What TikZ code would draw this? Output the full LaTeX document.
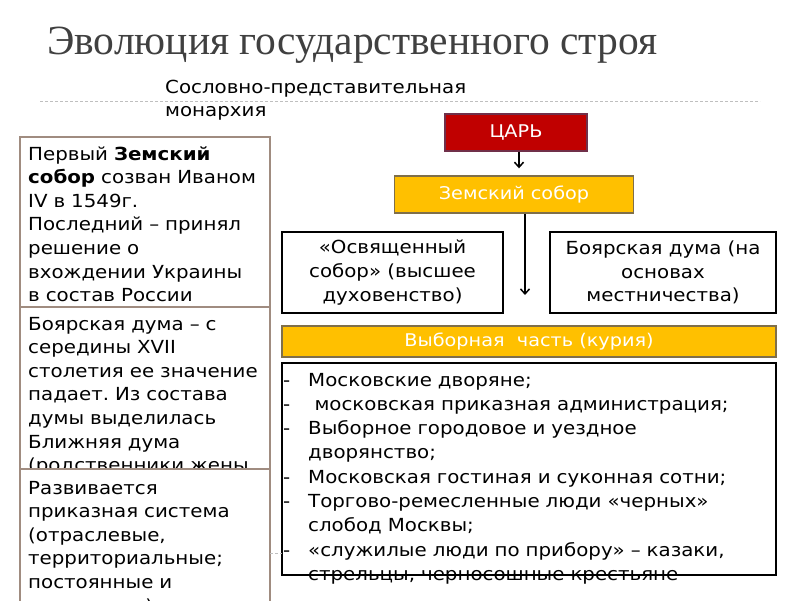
\documentclass[tikz,border=0pt]{standalone}
\usepackage{fontspec}
\setmainfont{DejaVu Sans}[FakeStretch=1.1]
\newfontfamily\titlefont{Liberation Serif}
\usetikzlibrary{arrows.meta}
\frenchspacing
\definecolor{titlegrey}{HTML}{404040}
\definecolor{sepgrey}{HTML}{BFBFBF}
\definecolor{leftborder}{HTML}{A08C80}
\definecolor{tsarred}{HTML}{C00000}
\definecolor{tsarborder}{HTML}{70304A}
\definecolor{gold}{HTML}{FFC000}
\definecolor{goldborder}{HTML}{7F6F4A}
\newcommand{\lstdash}{\leavevmode\llap{-\hspace{18pt}}}
\tikzset{
  leftbox/.style={draw=leftborder, fill=white, line width=1.6pt},
  lefttext/.style={anchor=base west, inner sep=0pt, text width=240pt, align=left,
    font=\fontsize{18}{23.6}\selectfont},
  whitebox/.style={draw=black, fill=white, line width=1.8pt},
  goldbox/.style={draw=goldborder, fill=gold, line width=1.4pt},
  boxlabel/.style={inner sep=0pt, align=center, font=\fontsize{18}{23.6}\selectfont},
  goldlabel/.style={inner sep=0pt, text=white, font=\fontsize{17.5}{21}\selectfont},
  arr/.style={line width=1.5pt, -{Straight Barb[length=5pt,width=9pt,line width=1.5pt]}}
}
\begin{document}
\begin{tikzpicture}[x=1pt,y=-1pt]
\useasboundingbox (0,0) rectangle (800,600);
\clip (0,0) rectangle (800,600);
\fill[white] (0,0) rectangle (800,600);

% title
\node[anchor=base west, inner sep=0pt, text=titlegrey, font=\titlefont\fontsize{41.5}{45}\selectfont] (title) at (47,54) {Эволюция государственного строя};
\draw[sepgrey, line width=0.8pt, dash pattern=on 3pt off 2pt] (40,101) -- (760,101);
\node[anchor=base west, inner sep=0pt, text width=330pt, align=left, font=\fontsize{18}{23}\selectfont] (sub) at (165,93) {Сословно-представительная\\монархия};

% left column
\draw[leftbox] (20,137) rectangle (270,307);
\node[lefttext] (l1) at (28,160) {Первый \textbf{Земский}\\\textbf{собор} созван Иваном\\IV в 1549г.\\Последний – принял\\решение о\\вхождении Украины\\в состав России};
\draw[leftbox] (20,307) rectangle (270,469);
\node[lefttext] (l2) at (28,330) {Боярская дума – с\\середины XVII\\столетия ее значение\\падает. Из состава\\думы выделилась\\Ближняя дума\\(родственники жены};
\draw[leftbox] (20,469) rectangle (270,640);
\node[lefttext] (l3) at (28,494) {Развивается\\приказная система\\(отраслевые,\\территориальные;\\постоянные и\\временные)};

% right scheme
\node[draw=tsarborder, fill=tsarred, line width=1.4pt, minimum width=142pt, minimum height=37pt, inner sep=0pt, text=white, font=\fontsize{17.5}{21}\selectfont] (tsar) at (516,132.5) {ЦАРЬ};
\node[goldbox, minimum width=239pt, minimum height=37pt, goldlabel] (zs) at (514,194.5) {Земский собор};
\node[whitebox, minimum width=221pt, minimum height=81pt, boxlabel] (os) at (392.5,272.5) {«Освященный\\собор» (высшее\\духовенство)};
\node[whitebox, minimum width=226pt, minimum height=81pt, boxlabel] (bd) at (663,272.5) {Боярская дума (на\\основах\\местничества)};
\node[goldbox, minimum width=494pt, minimum height=31pt, goldlabel] (vc) at (529,341.5) {Выборная\ \ часть (курия)};
\draw[whitebox] (282,363) rectangle (776,575);
\node[anchor=base west, inner sep=0pt, text width=460pt, align=left, font=\fontsize{18}{24.3}\selectfont] (list) at (308,386) {%
\lstdash Московские дворяне;\\
\lstdash\hspace{0.35em}московская приказная администрация;\\
\lstdash Выборное городовое и уездное\\
дворянство;\\
\lstdash Московская гостиная и суконная сотни;\\
\lstdash Торгово-ремесленные люди «черных»\\
слобод Москвы;\\
\lstdash «служилые люди по прибору» – казаки,\\
стрельцы, черносошные крестьяне};
\draw[black, line width=1.8pt] (282,575) -- (776,575);
\draw[sepgrey, line width=0.8pt, dash pattern=on 3pt off 2pt] (270,553) -- (282,553);

\coordinate (vend) at (525,295);
\draw[arr] (tsar.south -| 519,0) -- ([yshift=7pt]zs.north -| 519,0);
\draw[arr] (zs.south -| vend) -- (vend);
\end{tikzpicture}
\end{document}
